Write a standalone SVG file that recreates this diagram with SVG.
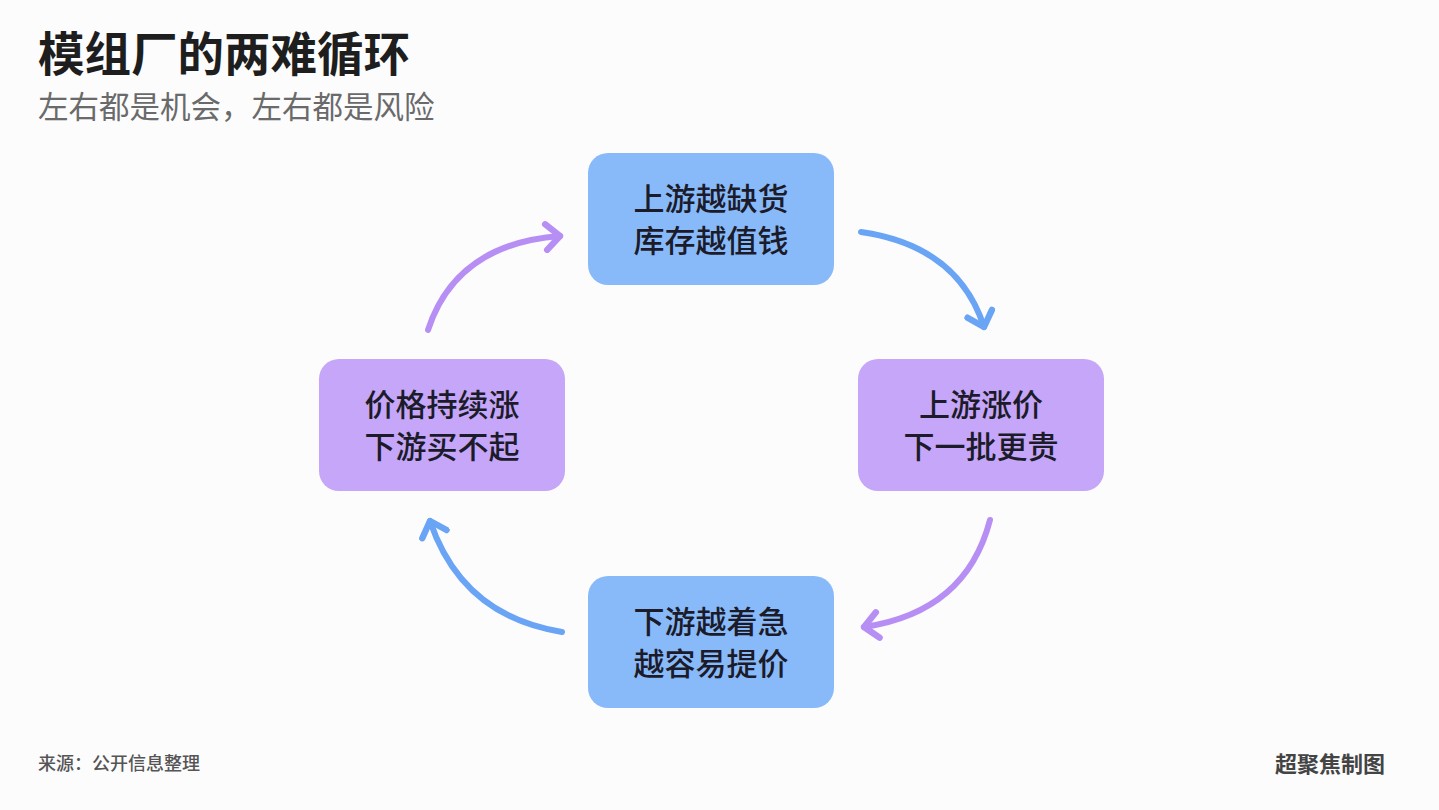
<svg xmlns="http://www.w3.org/2000/svg" width="1439" height="810" viewBox="0 0 1439 810">
<style>
text{font-family:"Noto Sans CJK SC","Noto Sans",sans-serif}
.title{font-size:46.5px;font-weight:700;fill:#1e1e1e}
.sub{font-size:30.5px;font-weight:400;fill:#6a6a6a}
.lbl{font-size:31px;font-weight:500;fill:#1b1b2a;text-anchor:middle}
.blue{fill:#88bafa}
.purple{fill:#c5a6f8}
.cb{fill:none;stroke:#6aa4f4;stroke-width:6;stroke-linecap:round}
.cp{fill:none;stroke:#b78ff4;stroke-width:6;stroke-linecap:round}
.foot{font-size:18px;fill:#555;font-weight:500}
.brand{font-size:22px;fill:#444;font-weight:700;text-anchor:end}
</style>
<defs>
<marker id="ab" markerUnits="userSpaceOnUse" markerWidth="32" markerHeight="32" viewBox="-17 -15 21 30" refX="0" refY="0" orient="auto">
<path d="M-13,-12 L0,0 L-13,12" fill="none" stroke="#6aa4f4" stroke-width="6" stroke-linecap="round" stroke-linejoin="round"/>
</marker>
<marker id="ap" markerUnits="userSpaceOnUse" markerWidth="32" markerHeight="32" viewBox="-17 -15 21 30" refX="0" refY="0" orient="auto">
<path d="M-13,-12 L0,0 L-13,12" fill="none" stroke="#b78ff4" stroke-width="6" stroke-linecap="round" stroke-linejoin="round"/>
</marker>
</defs>
<rect width="1439" height="810" fill="#fcfcfd"/>
<text class="title" x="38" y="71">模组厂的两难循环</text>
<text class="sub" x="38" y="118">左右都是机会，左右都是风险</text>
<g id="connectors">
<path class="cb" d="M861,232 Q958,246 984,327" marker-end="url(#ab)"/>
<path class="cp" d="M990,520 Q966,612 864,627" marker-end="url(#ap)"/>
<path class="cb" d="M562,632 Q462,616 430,521" marker-end="url(#ab)"/>
<path class="cp" d="M428,330 Q456,244 560,236" marker-end="url(#ap)"/>
</g>
<g id="node-top">
<rect class="blue" x="588" y="153" width="246" height="132" rx="20"/>
<text class="lbl" x="711" y="210">上游越缺货</text>
<text class="lbl" x="711" y="252">库存越值钱</text>
</g>
<g id="node-right">
<rect class="purple" x="858" y="359" width="246" height="132" rx="20"/>
<text class="lbl" x="981" y="416">上游涨价</text>
<text class="lbl" x="981" y="458">下一批更贵</text>
</g>
<g id="node-bottom">
<rect class="blue" x="588" y="576" width="246" height="132" rx="20"/>
<text class="lbl" x="711" y="633">下游越着急</text>
<text class="lbl" x="711" y="675">越容易提价</text>
</g>
<g id="node-left">
<rect class="purple" x="319" y="359" width="246" height="132" rx="20"/>
<text class="lbl" x="442" y="416">价格持续涨</text>
<text class="lbl" x="442" y="458">下游买不起</text>
</g>
<text class="foot" x="38" y="770">来源：公开信息整理</text>
<text class="brand" x="1385" y="772">超聚焦制图</text>
</svg>
